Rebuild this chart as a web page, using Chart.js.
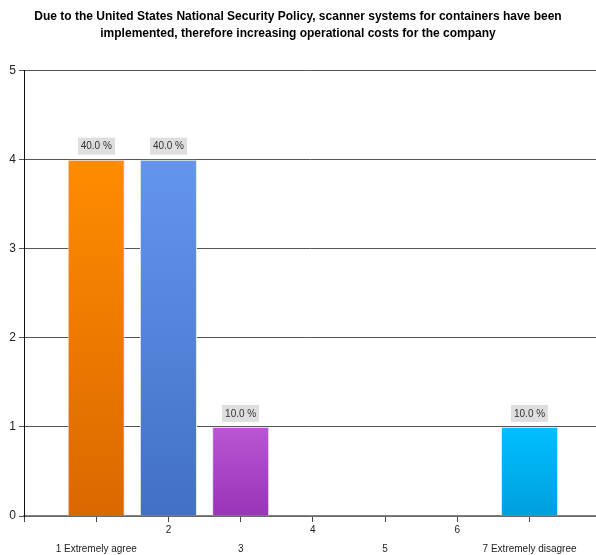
<!DOCTYPE html>
<html>
<head>
<meta charset="utf-8">
<script src="https://cdn.jsdelivr.net/npm/chart.js@4/dist/chart.umd.min.js"></script>
<style>
html,body{margin:0;padding:0;background:#fff;}
#wrap{width:596px;height:555px;}
</style>
</head>
<body>
<div id="wrap"><canvas id="c" width="596" height="555"></canvas></div>
<script>
const titleLines = [
  "Due to the United States National Security Policy, scanner systems for containers have been",
  "implemented, therefore increasing operational costs for the company"
];
const categories = ["1 Extremely agree", "2", "3", "4", "5", "6", "7 Extremely disagree"];
const positions = [1, 2, 3, 4, 5, 6, 7];
const counts = [4, 4, 1, 0, 0, 0, 1];
const percentLabels = ["40.0 %", "40.0 %", "10.0 %", "", "", "", "10.0 %"];
const yTicks = [0, 1, 2, 3, 4, 5];
const topColors = ["#FF8C00", "#6495ED", "#BA55D3", "#888888", "#888888", "#888888", "#00BFFF"];
const bottomColors = ["#DA6800", "#4170C6", "#9A34B8", "#666666", "#666666", "#666666", "#009FDD"];

const FONT = "'Liberation Sans', Arial, sans-serif";

function barFill(ctx) {
  const chart = ctx.chart;
  const i = ctx.dataIndex;
  const area = chart.chartArea;
  if (!area || !chart.scales.y) return topColors[i];
  const v = counts[i];
  const yTop = chart.scales.y.getPixelForValue(v);
  const yBot = chart.scales.y.getPixelForValue(0);
  if (yBot - yTop < 1) return topColors[i];
  const g = chart.ctx.createLinearGradient(0, yTop, 0, yBot);
  g.addColorStop(0, topColors[i]);
  g.addColorStop(1, bottomColors[i]);
  return g;
}

const labelPlugin = {
  id: 'pctLabels',
  afterDatasetsDraw(chart) {
    const ctx = chart.ctx;
    const meta = chart.getDatasetMeta(0);
    ctx.save();
    ctx.font = "10px " + FONT;
    ctx.textAlign = 'center';
    ctx.textBaseline = 'middle';
    meta.data.forEach((bar, i) => {
      const txt = percentLabels[i];
      if (!txt) return;
      const w = 37, h = 17;
      const cx = bar.x;
      const bottom = bar.y - 5;
      ctx.fillStyle = '#DEDEDE';
      ctx.fillRect(Math.round(cx - w / 2), bottom - h, w, h);
      ctx.fillStyle = '#333333';
      ctx.fillText(txt, cx, bottom - h / 2 + 0.5);
    });
    ctx.restore();
  }
};

new Chart(document.getElementById('c'), {
  type: 'bar',
  data: {
    datasets: [{
      data: positions.map((p, i) => ({ x: p, y: counts[i] })),
      backgroundColor: barFill,
      borderColor: '#E4E4E4',
      borderWidth: 1,
      barPercentage: 0.79,
      categoryPercentage: 1.0
    }]
  },
  options: {
    responsive: false,
    animation: false,
    layout: { padding: { left: 0, right: 0, top: 0, bottom: 0 } },
    plugins: {
      legend: { display: false },
      tooltip: { enabled: false },
      title: {
        display: true,
        text: titleLines,
        color: '#000',
        font: { family: FONT, size: 12, weight: 'bold', lineHeight: 1.4 },
        padding: { top: 8, bottom: 29 }
      }
    },
    scales: {
      x: {
        type: 'linear',
        offset: false,
        min: 0,
        max: 7.92,
        afterBuildTicks(scale) {
          scale.ticks = [0, 1, 2, 3, 4, 5, 6, 7].map(v => ({ value: v }));
        },
        afterFit(scale) { scale.height = 39; },
        grid: { offset: false, drawOnChartArea: false, drawTicks: true, tickLength: 6, color: '#444' },
        border: { display: true, color: '#808080', width: 1.5 },
        ticks: {
          autoSkip: false,
          maxRotation: 0,
          minRotation: 0,
          padding: -2,
          color: '#222',
          font: { family: FONT, size: 10, lineHeight: 1.95 },
          callback(value) {
            if (value < 1 || value > 7) return '';
            const i = Math.round(value) - 1;
            return i % 2 === 0 ? ['', categories[i]] : [categories[i]];
          }
        }
      },
      y: {
        min: 0,
        max: 5,
        afterBuildTicks(scale) {
          scale.ticks = yTicks.map(v => ({ value: v }));
        },
        afterFit(scale) { scale.width = 24; },
        grid: { color: '#555', lineWidth: 1, drawTicks: true, tickLength: 5 },
        border: { display: true, color: '#111', width: 1 },
        ticks: {
          padding: 3,
          color: '#222',
          font: { family: FONT, size: 12 }
        }
      }
    }
  },
  plugins: [labelPlugin]
});
</script>
</body>
</html>
